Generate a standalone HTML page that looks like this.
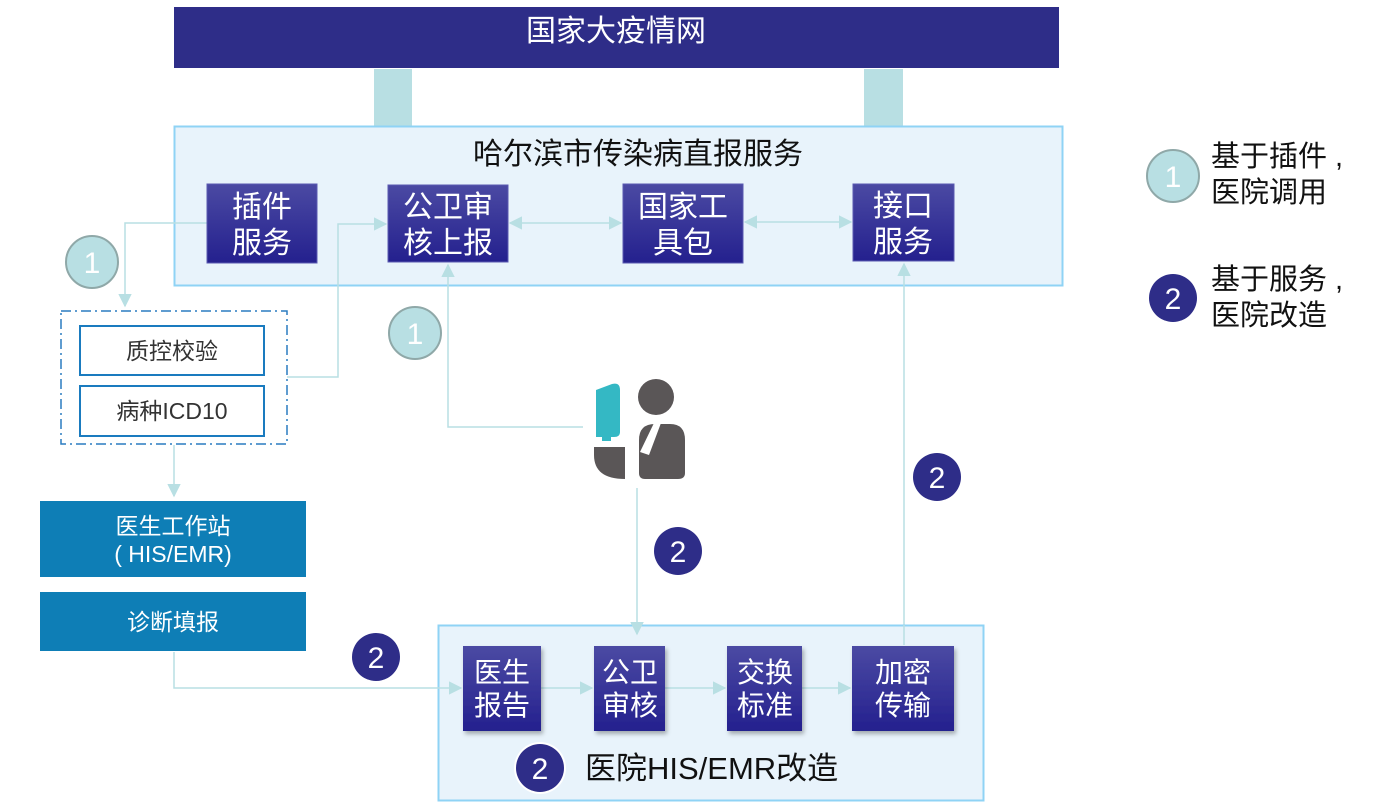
<!DOCTYPE html>
<html><head><meta charset="utf-8"><style>
html,body{margin:0;padding:0;background:#fff;}
svg{display:block;font-family:"Liberation Sans","Noto Sans CJK SC",sans-serif;}
</style></head><body>
<svg width="1384" height="811" viewBox="0 0 1384 811" xmlns="http://www.w3.org/2000/svg">
<defs>
<linearGradient id="g" x1="0" y1="0" x2="0" y2="1"><stop offset="0" stop-color="#4b4aa3"/><stop offset="1" stop-color="#24208e"/></linearGradient>
<marker id="a" viewBox="0 0 10 10" refX="9" refY="5" markerWidth="9" markerHeight="9" orient="auto-start-reverse"><path d="M0,0L10,5L0,10z" fill="#b8dfe3"/></marker>
<filter id="s" x="-10%" y="-10%" width="130%" height="130%"><feDropShadow dx="2" dy="3" stdDeviation="2" flood-color="#000" flood-opacity="0.3"/></filter>
</defs>
<rect x="174" y="7" width="885" height="61" fill="#2e2d88"/>
<text x="616" y="41" fill="#fff" font-size="30" text-anchor="middle">国家大疫情网</text>
<rect x="374" y="69" width="38" height="57" fill="#b8dfe3"/>
<rect x="864" y="69" width="39" height="57" fill="#b8dfe3"/>
<rect x="174.5" y="126.5" width="888" height="159" fill="#e8f3fb" stroke="#8fd3f5" stroke-width="2"/>
<text x="638" y="164" font-size="30" text-anchor="middle" fill="#111">哈尔滨市传染病直报服务</text>
<g fill="none" stroke="#b8dfe3" stroke-width="1.5">
<path d="M207,223H125V306" marker-end="url(#a)"/>
<path d="M287,377H338V224H386" marker-end="url(#a)"/>
<path d="M583,427H448V265" marker-end="url(#a)"/>
<path d="M510,223H621" marker-start="url(#a)" marker-end="url(#a)"/>
<path d="M745,222H851" marker-start="url(#a)" marker-end="url(#a)"/>
<path d="M904,645V264" marker-end="url(#a)"/>
<path d="M637,488V634" marker-end="url(#a)"/>
<path d="M174,445V496" marker-end="url(#a)"/>
</g>
<g fill="#fff" font-size="30" text-anchor="middle">
<rect x="207" y="184" width="110" height="79" fill="url(#g)" stroke="#5a59b0"/>
<text x="262" y="217">插件</text><text x="262" y="253">服务</text>
<rect x="388" y="185" width="120" height="77" fill="url(#g)" stroke="#5a59b0"/>
<text x="448" y="217">公卫审</text><text x="448" y="253">核上报</text>
<rect x="623" y="184" width="120" height="79" fill="url(#g)" stroke="#5a59b0"/>
<text x="683" y="217">国家工</text><text x="683" y="253">具包</text>
<rect x="853" y="184" width="101" height="77" fill="url(#g)" stroke="#5a59b0"/>
<text x="903" y="216">接口</text><text x="903" y="252">服务</text>
</g>
<rect x="61" y="311" width="226" height="133" fill="none" stroke="#2a7cc0" stroke-width="1.5" stroke-dasharray="10,4,2,4"/>
<rect x="80" y="326" width="184" height="49" fill="#fff" stroke="#1a7bbf" stroke-width="2"/>
<text x="172" y="359" font-size="23" fill="#333" text-anchor="middle">质控校验</text>
<rect x="80" y="386" width="184" height="50" fill="#fff" stroke="#1a7bbf" stroke-width="2"/>
<text x="172" y="419" font-size="23" fill="#333" text-anchor="middle">病种ICD10</text>
<rect x="40" y="501" width="266" height="76" fill="#0e7eb6"/>
<text x="173" y="534" font-size="23" fill="#fff" text-anchor="middle">医生工作站</text>
<text x="173" y="562" font-size="23" fill="#fff" text-anchor="middle">( HIS/EMR)</text>
<rect x="40" y="592" width="266" height="59" fill="#0e7eb6"/>
<text x="173" y="630" font-size="23" fill="#fff" text-anchor="middle">诊断填报</text>
<!-- person -->
<path d="M596,390L612,384Q620,382 620,390V432Q620,437 614,437H596Z" fill="#34b8c4"/>
<rect x="602" y="432" width="9" height="9" fill="#34b8c4"/>
<path d="M594,447H625V479Q594,479 594,455Z" fill="#5a5657"/>
<circle cx="656" cy="397" r="18" fill="#5a5657"/>
<path d="M639,440Q639,424 655,424H670Q685,424 685,440V473Q685,479 678,479H645Q639,479 639,473Z" fill="#5a5657"/>
<path d="M654,423L661,423L649,455L640,452Z" fill="#fff"/>
<!-- bottom -->
<rect x="438.5" y="625.5" width="545" height="175" fill="#e8f3fb" stroke="#8fd3f5" stroke-width="2"/>
<g fill="none" stroke="#b8dfe3" stroke-width="1.5">
<path d="M174,652V688H461" marker-end="url(#a)"/>
<path d="M541,688H592" marker-end="url(#a)"/>
<path d="M665,688H725" marker-end="url(#a)"/>
<path d="M802,688H850" marker-end="url(#a)"/>
</g>
<path d="M637,626V634" stroke="#b8dfe3" stroke-width="1.5" marker-end="url(#a)"/>
<path d="M904,625V645" stroke="#b8dfe3" stroke-width="1.5"/>
<g filter="url(#s)">
<rect x="463" y="646" width="78" height="85" fill="url(#g)"/>
<rect x="594" y="646" width="71" height="85" fill="url(#g)"/>
<rect x="727" y="646" width="75" height="85" fill="url(#g)"/>
<rect x="852" y="646" width="102" height="85" fill="url(#g)"/>
</g>
<g fill="#fff" font-size="28" text-anchor="middle">
<text x="502" y="682">医生</text><text x="502" y="715">报告</text>
<text x="630" y="682">公卫</text><text x="630" y="715">审核</text>
<text x="765" y="682">交换</text><text x="765" y="715">标准</text>
<text x="903" y="682">加密</text><text x="903" y="715">传输</text>
</g>
<circle cx="540" cy="768" r="26" fill="#fff"/>
<text x="585" y="779" font-size="31" fill="#111">医院HIS/EMR改造</text>
<!-- circles -->
<g font-size="30" text-anchor="middle" fill="#fff">
<circle cx="92" cy="262" r="26" fill="#b8dfe3" stroke="#8fa8a8" stroke-width="2"/><text x="92" y="273">1</text>
<circle cx="415" cy="333" r="26" fill="#b8dfe3" stroke="#8fa8a8" stroke-width="2"/><text x="415" y="344">1</text>
<circle cx="1173" cy="176" r="26" fill="#b8dfe3" stroke="#8fa8a8" stroke-width="2"/><text x="1173" y="187">1</text>
<circle cx="937" cy="477" r="24" fill="#2e2d88"/><text x="937" y="488">2</text>
<circle cx="678" cy="551" r="24" fill="#2e2d88"/><text x="678" y="562">2</text>
<circle cx="376" cy="657" r="24" fill="#2e2d88"/><text x="376" y="668">2</text>
<circle cx="540" cy="768" r="24" fill="#2e2d88"/><text x="540" y="779">2</text>
<circle cx="1173" cy="298" r="24" fill="#2e2d88"/><text x="1173" y="309">2</text>
</g>
<g font-size="29" fill="#111">
<text x="1211" y="166">基于插件 ,</text><text x="1211" y="202">医院调用</text>
<text x="1211" y="289">基于服务 ,</text><text x="1211" y="325">医院改造</text>
</g>
</svg>
</body></html>
